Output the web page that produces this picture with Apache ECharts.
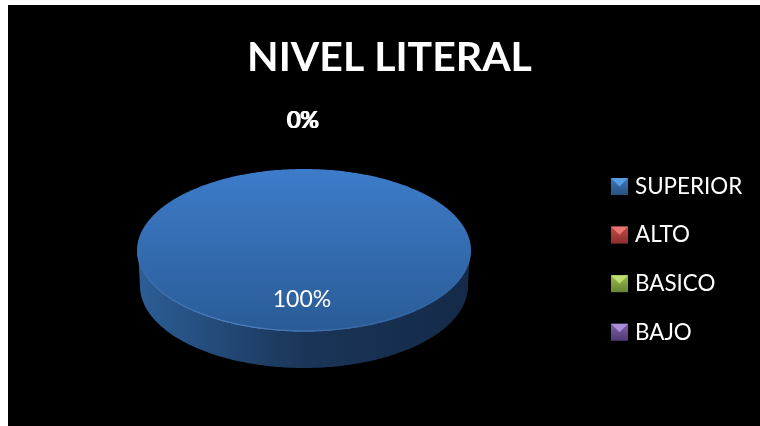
<!DOCTYPE html>
<html><head><meta charset="utf-8">
<style>html,body{margin:0;padding:0;background:#fff;width:760px;height:426px;overflow:hidden}
#chart{position:absolute;left:8px;top:5px;width:752px;height:421px;background:#000}</style>
<script src="https://cdn.jsdelivr.net/npm/echarts@6/dist/echarts.min.js"></script>
</head><body><div id="chart"></div>
<script>
const titleText = 'NIVEL LITERAL';
const categories = ['SUPERIOR', 'ALTO', 'BASICO', 'BAJO'];
const values = [100, 0, 0, 0];
const topColors = [['#3d7cca', '#2a5b96'], ['#d0504c', '#9a3330'], ['#a0c850', '#76953a'], ['#8a68b8', '#5e4585']];
const wallColors = [['#2c5e96', '#1a3558', '#142a48'], ['#9a3a38', '#5e2020', '#481818'], ['#7a9a3c', '#4c6024', '#3a4a1c'], ['#6a5090', '#40305a', '#322548']];
const legendColors = [['#3a78c0', '#27507f'], ['#c84a46', '#8a2e2c'], ['#98c048', '#688334'], ['#7f60ab', '#4f3a72']];
const legendLight = ['#5ea4ea', '#ee7e7a', '#c8e878', '#b496e6'];

const cx = 296, cy = 245.5, rx = 167, ry = 81.5, wallRx = 164, wallCy = 281, wallRy = 82;
const total = values.reduce((a, b) => a + b, 0);
const lg = (c, x2, y2) => ({type: 'linear', x: 0, y: 0, x2, y2,
  colorStops: c.map((color, i) => ({offset: i / (c.length - 1), color}))});

// angle 0 = top of the ellipse, running clockwise
const pt = (a, X, Y, RX, RY) => [X + RX * Math.sin(a), Y - RY * Math.cos(a)];
function arc(a0, a1, X, Y, RX, RY) {
  const out = [], n = Math.max(2, Math.ceil(Math.abs(a1 - a0) / 0.015));
  for (let i = 0; i <= n; i++) out.push(pt(a0 + (a1 - a0) * i / n, X, Y, RX, RY));
  return out;
}
function renderSlice(idx) {
  return function (params, api) {
    const before = values.slice(0, idx).reduce((a, b) => a + b, 0);
    const a0 = before / total * 2 * Math.PI;
    const a1 = (before + api.value(0)) / total * 2 * Math.PI;
    const kids = [];
    if (a1 > a0) {
      // visible wall = part of the slice in the lower half
      const w0 = Math.max(a0, Math.PI / 2), w1 = Math.min(a1, Math.PI * 1.5);
      if (w1 > w0) {
        const pts = arc(w0, w1, cx, cy, rx - 1, ry).concat(arc(w1, w0, cx, wallCy, wallRx, wallRy));
        kids.push({type: 'polygon', shape: {points: pts}, style: {fill: lg(wallColors[idx], 1, 0)}});
      }
      const full = a1 - a0 >= 2 * Math.PI - 1e-6;
      const pts = arc(a0, a1, cx, cy, rx, ry);
      if (!full) pts.push([cx, cy]);
      kids.push({type: 'polygon', shape: {points: pts}, style: {fill: lg(topColors[idx], 0, 1)}});
      // light rim along the front edge
      if (w1 > w0) {
        kids.push({type: 'polyline', shape: {points: arc(w0, w1, cx, cy, rx - 1, ry - 1)},
          style: {fill: 'none', lineWidth: 1.2, stroke: {type: 'linear', x: 0, y: 0, x2: 1, y2: 0, colorStops: [
            {offset: 0, color: 'rgba(120,170,235,0.1)'}, {offset: 0.3, color: 'rgba(120,170,235,0.5)'},
            {offset: 0.65, color: 'rgba(120,170,235,0.2)'}, {offset: 1, color: 'rgba(120,170,235,0.03)'}]}}});
      }
    }
    const mid = (a0 + a1) / 2;
    const isZero = api.value(0) === 0;
    const p = pt(mid, cx, cy, rx * (isZero ? 1.58 : 0.6), ry * (isZero ? 1.6 : 0.6));
    kids.push({type: 'text', x: p[0] + (isZero ? (idx - 2) * 0.9 - 1 : -2), y: p[1], z2: 10,
      style: {text: Math.round(api.value(0) / total * 100) + '%', fill: '#fff',
        font: '23px Lato', align: 'center', verticalAlign: 'middle'}});
    return {type: 'group', children: kids};
  };
}

const legendX = 603, legendY = 169.5, legendStep = 48.6, mark = 17, legendRow = 24;
const option = {
  animation: false,
  backgroundColor: '#000',
  title: {text: titleText, left: 376.5, top: 27.5, textAlign: 'center',
    textStyle: {color: '#fff', fontFamily: 'Lato', fontWeight: 'bold', fontSize: 41}},
  legend: {orient: 'vertical', left: legendX, top: legendY, padding: 0, itemWidth: mark, itemHeight: mark,
    itemGap: legendStep - legendRow, icon: 'rect', selectedMode: false,
    textStyle: {color: '#fff', fontFamily: 'Lato', fontSize: 22.4, lineHeight: legendRow, padding: [0, 0, 0, 2]},
    data: categories.map((name, i) => ({name, icon: 'rect', itemStyle: {color: lg(legendColors[i], 0, 1)}}))},
  series: categories.map((name, i) => ({
    name, type: 'custom', coordinateSystem: 'none', silent: true,
    itemStyle: {color: topColors[i][0]},
    data: [[values[i]]], renderItem: renderSlice(i)
  })),
  graphic: categories.map((name, i) => ({
    type: 'polygon', z: 100, silent: true, x: legendX, y: legendY + (legendRow - mark) / 2 + i * legendStep,
    shape: {points: [[0, 0], [mark, 0], [mark / 2, mark / 2]]},
    style: {fill: legendLight[i], opacity: 0.85}
  }))
};
const chart = echarts.init(document.getElementById('chart'), null, {renderer: 'canvas'});
chart.setOption(option);
</script></body></html>
